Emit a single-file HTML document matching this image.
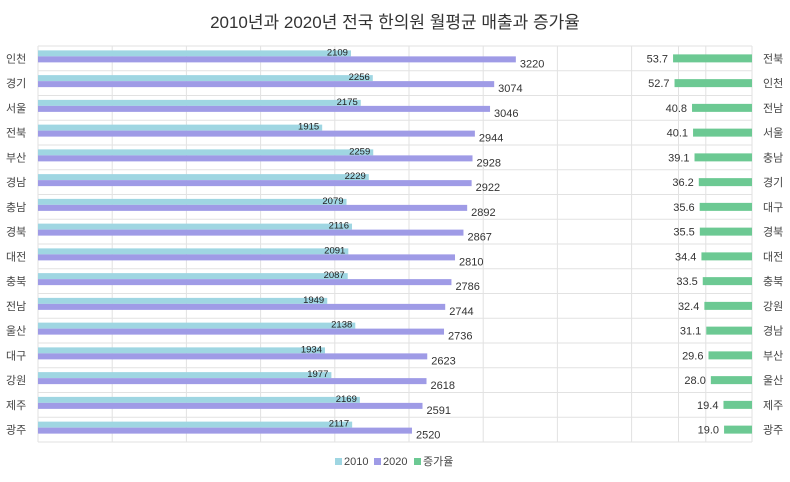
<!DOCTYPE html>
<html><head><meta charset="utf-8"><style>
body{margin:0;background:#fff;font-family:"Liberation Sans","Noto Sans CJK KR",sans-serif}
svg text{font-family:"Liberation Sans","Noto Sans CJK KR",sans-serif}
</style></head><body>
<svg id="c" width="790" height="477">
<text x="395" y="28" text-anchor="middle" font-size="17" fill="#333">2010년과 2020년 전국 한의원 월평균 매출과 증가율</text>
<g id="grid"></g><g id="bars"></g>
<g>
<rect x="335" y="458" width="7" height="7" fill="#9fd6e2"/>
<text x="344" y="465" font-size="11" fill="#444">2010</text>
<rect x="374" y="458" width="7" height="7" fill="#9f9be6"/>
<text x="383" y="465" font-size="11" fill="#444">2020</text>
<rect x="414" y="458" width="7" height="7" fill="#6cc993"/>
<text x="423" y="465" font-size="11" fill="#444">증가율</text>
</g>
</svg>
<script>
const regions=["인천","경기","서울","전북","부산","경남","충남","경북","대전","충북","전남","울산","대구","강원","제주","광주"];
const v2010=[2109,2256,2175,1915,2259,2229,2079,2116,2091,2087,1949,2138,1934,1977,2169,2117];
const v2020=[3220,3074,3046,2944,2928,2922,2892,2867,2810,2786,2744,2736,2623,2618,2591,2520];
const growthRegions=["전북","인천","전남","서울","충남","경기","대구","경북","대전","충북","강원","경남","부산","울산","제주","광주"];
const growth=[53.7,52.7,40.8,40.1,39.1,36.2,35.6,35.5,34.4,33.5,32.4,31.1,29.6,28.0,19.4,19.0];
const leftTicks=[0,500,1000,1500,2000,2500,3000,3500,4000,4500];
const NS="http://www.w3.org/2000/svg";
const L=38,R=752,T=46,B=442,rh=(B-T)/16;
const xV=v=>L+v*0.1484;
const xG=g=>R-g*1.47;
const yRow=i=>T+rh*i+rh/2;
function mk(tag,attrs,parent){const e=document.createElementNS(NS,tag);for(const k in attrs)e.setAttribute(k,attrs[k]);parent.appendChild(e);return e;}
const grid=document.getElementById('grid'),bars=document.getElementById('bars');
leftTicks.forEach(t=>{const l=mk('line',{x1:xV(t),x2:xV(t),y1:T,y2:B,stroke:'#e2e2e2'},grid);

});
[0,50].forEach(t=>{const l=mk('line',{x1:xG(t),x2:xG(t),y1:T,y2:B,stroke:'#e2e2e2'},grid);

});
for(let i=0;i<=16;i++){const l=mk('line',{x1:L,x2:R,y1:T+rh*i,y2:T+rh*i,stroke:'#e2e2e2'},grid);

}
regions.forEach((r,i)=>{const y=yRow(i);
const t=mk('text',{x:6,y:y+4,'font-size':11,fill:'#444'},bars);t.textContent=r;


const b1=mk('rect',{x:L,y:y-8,width:xV(v2010[i])-L,height:6,fill:'#9fd6e2'},bars);


const b2=mk('rect',{x:L,y:y-2,width:xV(v2020[i])-L,height:6,fill:'#9f9be6'},bars);


const l1=mk('text',{x:xV(v2010[i])-3,y:y-3,'font-size':9.5,fill:'#222','text-anchor':'end'},bars);l1.textContent=v2010[i];


const l2=mk('text',{x:xV(v2020[i])+4,y:y+9,'font-size':11,fill:'#333'},bars);l2.textContent=v2020[i];


});
growthRegions.forEach((r,i)=>{const y=yRow(i);
const b=mk('rect',{x:xG(growth[i]),y:y-4,width:R-xG(growth[i]),height:8,fill:'#6cc993'},bars);


const l=mk('text',{x:xG(growth[i])-5,y:y+4,'font-size':11,fill:'#333','text-anchor':'end'},bars);l.textContent=growth[i].toFixed(1);


const t=mk('text',{x:763,y:y+4,'font-size':11,fill:'#444'},bars);t.textContent=r;


});
</script>
</body></html>
